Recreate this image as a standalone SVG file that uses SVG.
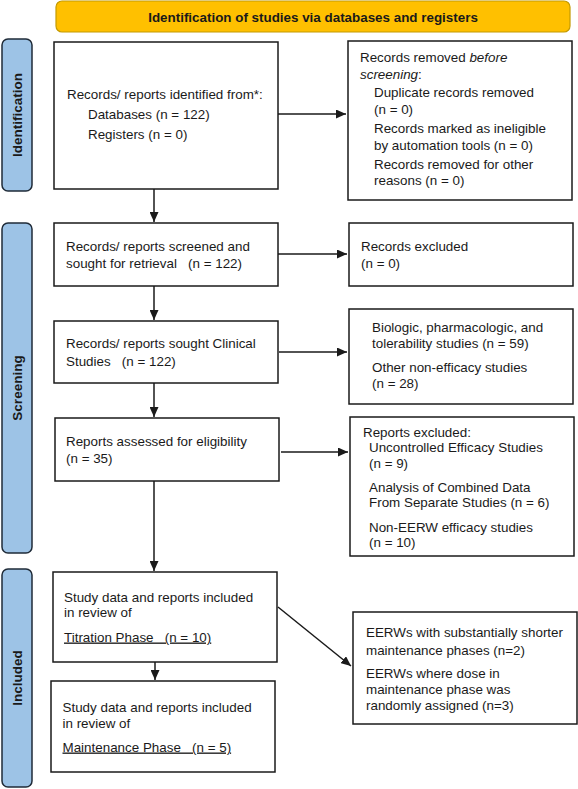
<svg xmlns="http://www.w3.org/2000/svg" width="578" height="789" viewBox="0 0 578 789">
<style>
text{font-family:"Liberation Sans",Arial,sans-serif;font-size:13.4px;fill:#1a1a1a}
.box{fill:#fff;stroke:#1a1a1a;stroke-width:1.5}
.side{fill:#9DC3E6;stroke:#1f2b38;stroke-width:1.5}
.bold{font-weight:bold}
.lbl{font-weight:bold;font-size:13.5px;text-anchor:middle;dominant-baseline:central}
.conn{stroke:#1a1a1a;stroke-width:1.5;fill:none;marker-end:url(#ah)}
.u{text-decoration:underline}
</style>
<defs>
<marker id="ah" markerUnits="userSpaceOnUse" viewBox="0 0 10 9" markerWidth="10" markerHeight="9" refX="10" refY="4.5" orient="auto">
<path d="M0,0 L10,4.5 L0,9 z" fill="#1a1a1a"/>
</marker>
</defs>

<g id="banner">
<rect x="56" y="1" width="514" height="31" rx="6" fill="#FFC000" stroke="#C49A00" stroke-width="1.2"/>
<text class="bold" x="313" y="21.5" text-anchor="middle" font-size="13.5">Identification of studies via databases and registers</text>
</g>

<g id="label-identification">
<rect class="side" x="2" y="39" width="30" height="152" rx="6"/>
<text class="lbl" transform="translate(17,115) rotate(-90)">Identification</text>
</g>
<g id="label-screening">
<rect class="side" x="2" y="223" width="30" height="330" rx="6"/>
<text class="lbl" transform="translate(17,388) rotate(-90)">Screening</text>
</g>
<g id="label-included">
<rect class="side" x="2" y="569" width="30" height="218" rx="6"/>
<text class="lbl" transform="translate(17,678) rotate(-90)">Included</text>
</g>

<g id="identified">
<rect class="box" x="54" y="42" width="224" height="147"/>
<text x="67" y="98.5">Records/ reports identified from*:</text>
<text x="88" y="118.5">Databases (n = 122)</text>
<text x="88" y="138.5">Registers (n = 0)</text>
</g>

<g id="removed">
<rect class="box" x="348" y="41" width="224" height="159"/>
<text x="360" y="62">Records removed <tspan font-style="italic">before</tspan></text>
<text x="360" y="78.5"><tspan font-style="italic">screening</tspan>:</text>
<text x="374" y="97">Duplicate records removed</text>
<text x="374" y="113.5">(n = 0)</text>
<text x="374" y="132.5">Records marked as ineligible</text>
<text x="374" y="149.5">by automation tools (n = 0)</text>
<text x="374" y="168.5">Records removed for other</text>
<text x="374" y="185">reasons (n = 0)</text>
</g>

<g id="screened">
<rect class="box" x="54" y="223" width="224" height="63"/>
<text x="66" y="251">Records/ reports screened and</text>
<text x="66" y="268" xml:space="preserve">sought for retrieval   (n = 122)</text>
</g>

<g id="excluded">
<rect class="box" x="349" y="223" width="224" height="63"/>
<text x="361" y="251">Records excluded</text>
<text x="361" y="268">(n = 0)</text>
</g>

<g id="clinical">
<rect class="box" x="54" y="321" width="224" height="62"/>
<text x="66" y="348">Records/ reports sought Clinical</text>
<text x="66" y="366" xml:space="preserve">Studies   (n = 122)</text>
</g>

<g id="nonclinical">
<rect class="box" x="349" y="309" width="224" height="95"/>
<text x="372" y="332">Biologic, pharmacologic, and</text>
<text x="372" y="348">tolerability studies (n = 59)</text>
<text x="372" y="372">Other non-efficacy studies</text>
<text x="372" y="388">(n = 28)</text>
</g>

<g id="eligibility">
<rect class="box" x="55" y="418" width="224" height="63"/>
<text x="66" y="446">Reports assessed for eligibility</text>
<text x="66" y="463">(n = 35)</text>
</g>

<g id="reports-excluded">
<rect class="box" x="350" y="417" width="224" height="139"/>
<text x="363" y="437">Reports excluded:</text>
<text x="369" y="452">Uncontrolled Efficacy Studies</text>
<text x="369" y="468">(n = 9)</text>
<text x="369" y="492">Analysis of Combined Data</text>
<text x="369" y="507">From Separate Studies (n = 6)</text>
<text x="369" y="532">Non-EERW efficacy studies</text>
<text x="369" y="547">(n = 10)</text>
</g>

<g id="titration">
<rect class="box" x="53" y="572" width="224" height="90"/>
<text x="64" y="601.5">Study data and reports included</text>
<text x="64" y="617">in review of</text>
<text x="64" y="641.5" class="u" xml:space="preserve">Titration Phase   (n = 10)</text>
</g>

<g id="maintenance">
<rect class="box" x="51" y="681" width="224" height="91"/>
<text x="62.5" y="711.5">Study data and reports included</text>
<text x="62.5" y="727.5">in review of</text>
<text x="62.5" y="751.5" class="u" xml:space="preserve">Maintenance Phase   (n = 5)</text>
</g>

<g id="eerw-excluded">
<rect class="box" x="353" y="612" width="224" height="112"/>
<text x="366" y="637">EERWs with substantially shorter</text>
<text x="366" y="654.5">maintenance phases (n=2)</text>
<text x="366" y="677.5">EERWs where dose in</text>
<text x="366" y="693.5">maintenance phase was</text>
<text x="366" y="710">randomly assigned (n=3)</text>
</g>

<g id="connectors">
<line class="conn" x1="278" y1="114" x2="346" y2="114"/>
<line class="conn" x1="154" y1="189" x2="154" y2="222"/>
<line class="conn" x1="278" y1="254" x2="347" y2="254"/>
<line class="conn" x1="154" y1="286" x2="154" y2="320"/>
<line class="conn" x1="279" y1="352" x2="347" y2="352"/>
<line class="conn" x1="154" y1="383" x2="154" y2="417"/>
<line class="conn" x1="281" y1="452" x2="348" y2="452"/>
<line class="conn" x1="154" y1="481" x2="154" y2="571"/>
<line class="conn" x1="155" y1="662" x2="155" y2="680"/>
<line class="conn" x1="278" y1="607" x2="351" y2="666"/>
</g>
</svg>
